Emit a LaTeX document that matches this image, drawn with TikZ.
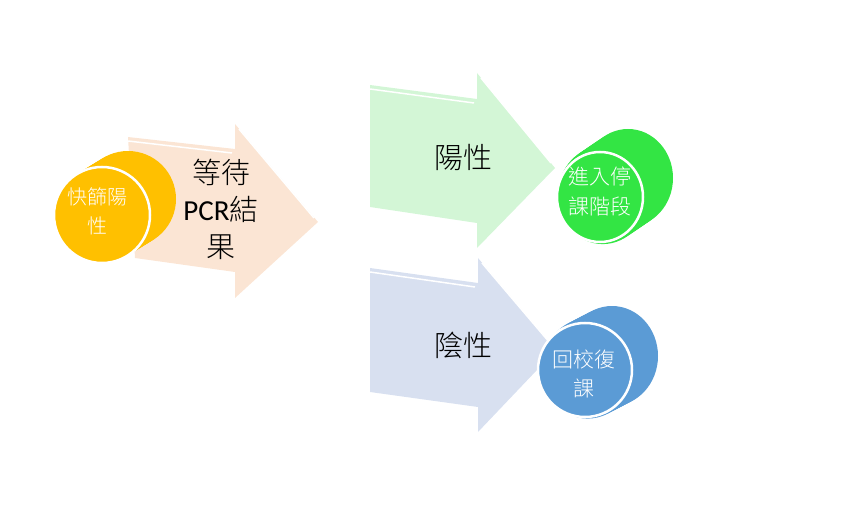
\documentclass[tikz,border=0pt]{standalone}
\usepackage{fontspec}
\setmainfont{Noto Sans CJK TC}[UprightFont=* Light]
\newfontfamily\latinfont{Carlito}
\usetikzlibrary{calc,shapes.geometric}
\definecolor{peach}{RGB}{251,229,212}
\definecolor{gold}{RGB}{255,192,0}
\definecolor{mint}{RGB}{211,246,214}
\definecolor{leaf}{RGB}{51,229,68}
\definecolor{mist}{RGB}{216,224,240}
\definecolor{steel}{RGB}{91,155,213}

\begin{document}
\begin{tikzpicture}[x=1pt,y=-1pt,
  bevel/.style={white,line width=1.5pt},
  steptext/.style={align=center,font=\fontsize{29}{37}\selectfont},
  disc/.style={ellipse,draw=white,line width=2.5pt,inner sep=0pt},
  disctext/.style={text=white,align=center,font=\fontsize{21}{29}\selectfont}]
  \useasboundingbox (0,0) rectangle (865,505);

  % arrows
  \fill[peach] (128,137) -- (235,149) -- (235,124) -- (318,222) -- (235,298)
    -- (235,272) -- (135,258) -- cycle;
  \draw[bevel] (128,141) -- (232,153);
  \draw[bevel] (239,129) -- (314,218);
  \fill[mint] (370,85) -- (477,99) -- (477,73) -- (555,168) -- (477,248)
    -- (477,223) -- (370,207) -- cycle;
  \draw[bevel] (370,89) -- (474,103);
  \draw[bevel] (481,78) -- (551,163);
  \fill[mist] (370,268) -- (478,283) -- (478,258) -- (556,350) -- (478,432)
    -- (478,407) -- (370,392) -- cycle;
  \draw[bevel] (370,272) -- (475,287);
  \draw[bevel] (482,263) -- (550,343);

  \node[steptext] (wait) at (221,209) {等待\\{\latinfont PCR}結\\果};
  \node[steptext] (pos) at (463,157) {陽性};
  \node[steptext] (neg) at (463,345) {陰性};

  % discs
  \foreach \t in {0,0.1,...,1}
    \fill[gold] ($(128,199)!\t!(102,215)$) ellipse (48 and 48);
  \node[disc,fill=gold,minimum width=96pt,minimum height=96pt] (rapid)
    at (102,215) {};
  \node[disctext,font=\fontsize{20}{29}\selectfont] (rapidtext) at (97,211) {快篩陽\\性};

  \foreach \t in {0,0.1,...,1}
    \fill[leaf] ($(628,178)!\t!(600,197)$) ellipse (45 and 49);
  \node[disc,fill=leaf,minimum width=86pt,minimum height=90pt] (stop)
    at (600,197) {};
  \node[disctext,font=\fontsize{21}{30}\selectfont] (stoptext) at (600,192) {進入停\\課階段};

  \foreach \t in {0,0.1,...,1}
    \fill[steel] ($(612,356)!\t!(585,370)$) ellipse (46 and 50);
  \node[disc,fill=steel,minimum width=94pt,minimum height=94pt] (back)
    at (585,370) {};
  \node[disctext] (backtext) at (584,374) {回校復\\課};
\end{tikzpicture}
\end{document}
